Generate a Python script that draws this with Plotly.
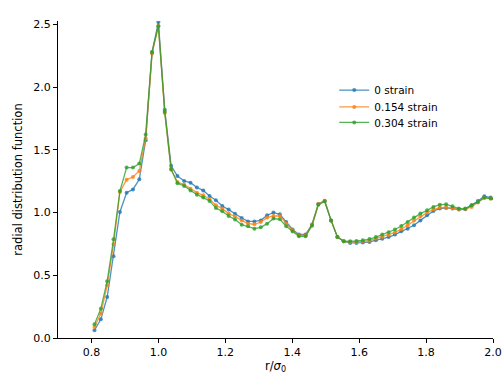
import plotly.graph_objects as go

r = [0.809, 0.828, 0.847, 0.866, 0.885, 0.905, 0.924, 0.943, 0.962, 0.981,
     1.000, 1.019, 1.038, 1.057, 1.077, 1.096, 1.115, 1.134, 1.153, 1.172,
     1.191, 1.210, 1.229, 1.249, 1.268, 1.287, 1.306, 1.325, 1.344, 1.363,
     1.382, 1.401, 1.420, 1.440, 1.459, 1.478, 1.497, 1.516, 1.535, 1.554,
     1.573, 1.592, 1.611, 1.631, 1.650, 1.669, 1.688, 1.707, 1.726, 1.745,
     1.764, 1.783, 1.803, 1.822, 1.841, 1.860, 1.879, 1.898, 1.917, 1.936,
     1.955, 1.974, 1.993, 2.012]

g_strain0 = [0.062, 0.149, 0.327, 0.651, 1.005, 1.159, 1.185, 1.266, 1.577, 2.276,
             2.520, 1.820, 1.373, 1.292, 1.252, 1.239, 1.200, 1.177, 1.132, 1.098,
             1.052, 1.024, 0.990, 0.957, 0.930, 0.930, 0.938, 0.979, 1.000, 0.986,
             0.925, 0.865, 0.826, 0.826, 0.905, 1.068, 1.093, 0.938, 0.806, 0.771,
             0.758, 0.758, 0.761, 0.766, 0.779, 0.792, 0.805, 0.825, 0.851, 0.872,
             0.899, 0.938, 0.979, 1.013, 1.032, 1.037, 1.032, 1.024, 1.026, 1.058,
             1.093, 1.130, 1.120, 1.100]

g_strain154 = [0.088, 0.195, 0.420, 0.747, 1.164, 1.263, 1.284, 1.332, 1.590, 2.268,
               2.490, 1.794, 1.341, 1.244, 1.224, 1.191, 1.159, 1.138, 1.106, 1.058,
               1.032, 0.992, 0.969, 0.938, 0.912, 0.907, 0.925, 0.960, 0.973, 0.973,
               0.912, 0.859, 0.818, 0.818, 0.902, 1.068, 1.094, 0.938, 0.806, 0.771,
               0.766, 0.766, 0.771, 0.776, 0.791, 0.806, 0.822, 0.842, 0.867, 0.900,
               0.938, 0.971, 1.000, 1.024, 1.040, 1.042, 1.034, 1.026, 1.028, 1.045,
               1.080, 1.117, 1.112, 1.090]

g_strain304 = [0.109, 0.234, 0.453, 0.787, 1.172, 1.359, 1.359, 1.391, 1.622, 2.281,
               2.486, 1.804, 1.347, 1.234, 1.213, 1.177, 1.143, 1.120, 1.093, 1.036,
               1.010, 0.973, 0.946, 0.904, 0.891, 0.872, 0.883, 0.912, 0.953, 0.947,
               0.891, 0.850, 0.811, 0.811, 0.896, 1.062, 1.091, 0.938, 0.806, 0.771,
               0.771, 0.774, 0.779, 0.789, 0.805, 0.825, 0.843, 0.865, 0.893, 0.925,
               0.960, 0.992, 1.018, 1.045, 1.063, 1.066, 1.050, 1.032, 1.032, 1.058,
               1.085, 1.120, 1.112, 1.090]

labels = ["0 strain", "0.154 strain", "0.304 strain"]
series = [g_strain0, g_strain154, g_strain304]
colors = ["rgba(31,119,180,0.8)", "rgba(255,127,14,0.8)", "rgba(44,160,44,0.8)"]
legend_ids = ["legend", "legend2", "legend3"]
legend_rows = [0.782, 0.729, 0.680]

fig = go.Figure()
for lab, ys, c, lid in zip(labels, series, colors, legend_ids):
    fig.add_trace(go.Scatter(
        x=r, y=ys, name=lab, mode="lines+markers",
        line=dict(color=c, width=1.3),
        marker=dict(color=c, size=4),
        legend=lid,
    ))

axis_common = dict(
    showgrid=False, zeroline=False, showline=True, linecolor="#000000", linewidth=1,
    ticks="outside", ticklen=4, tickcolor="#000000", tickwidth=1,
    tickfont=dict(family="DejaVu Sans", size=11, color="#000000"),
    mirror=False, automargin=False,
)

legend_style = dict(x=0.635, xanchor="left", yanchor="middle",
                    bgcolor="rgba(0,0,0,0)", borderwidth=0,
                    font=dict(family="DejaVu Sans", size=10.5, color="#000000"),
                    itemwidth=30)

fig.update_layout(
    width=502, height=374,
    margin=dict(l=58, r=9, t=21, b=36, autoexpand=False),
    paper_bgcolor="white", plot_bgcolor="white",
    font=dict(family="DejaVu Sans", size=11, color="#000000"),
    xaxis=dict(range=[0.7, 2.0], tickvals=[0.8, 1.0, 1.2, 1.4, 1.6, 1.8, 2.0],
               ticktext=["0.8", "1.0", "1.2", "1.4", "1.6", "1.8", "2.0"],
               title=dict(text="r/<i>σ</i><sub>0</sub>", standoff=4,
                          font=dict(family="DejaVu Sans", size=11.5)),
               **axis_common),
    yaxis=dict(range=[0, 2.528], tickvals=[0, 0.5, 1.0, 1.5, 2.0, 2.5],
               ticktext=["0.0", "0.5", "1.0", "1.5", "2.0", "2.5"],
               title=dict(text="radial distribution function", standoff=8,
                          font=dict(family="DejaVu Sans", size=11.5)),
               **axis_common),
    legend=dict(y=legend_rows[0], **legend_style),
    legend2=dict(y=legend_rows[1], **legend_style),
    legend3=dict(y=legend_rows[2], **legend_style),
    showlegend=True,
)

fig.write_html("out.html")
